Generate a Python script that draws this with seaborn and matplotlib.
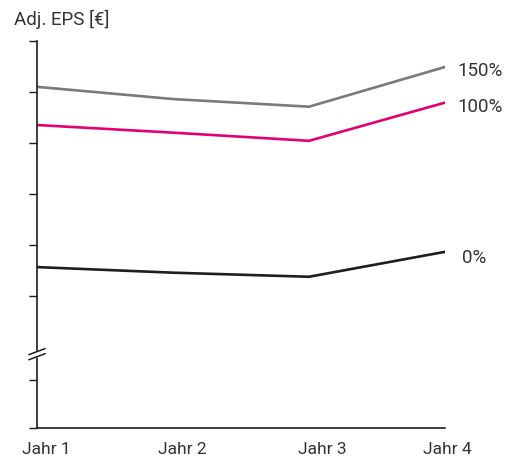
import pandas as pd
import matplotlib.pyplot as plt
import matplotlib.transforms as mtrans
import seaborn as sns

years = ["Jahr 1", "Jahr 2", "Jahr 3", "Jahr 4"]
scenarios = ["150%", "100%", "0%"]
eps_150 = [4.10, 3.86, 3.71, 4.49]
eps_100 = [3.35, 3.20, 3.04, 3.79]
eps_0 = [0.56, 0.45, 0.37, 0.86]
y_ticks = [-2.6, -1.65, 0, 1, 2, 3, 4, 5]

colors = {"150%": "#7a7a7a", "100%": "#e20074", "0%": "#1e1e1e"}

rows = []
for name, vals in zip(scenarios, [eps_150, eps_100, eps_0]):
    for i, v in enumerate(vals):
        rows.append({"pos": i, "year": years[i], "scenario": name, "eps": v})
df = pd.DataFrame(rows)

sns.set_style("white")
plt.rcParams['font.family'] = ['Roboto', 'DejaVu Sans']
text_col = "#333333"

fig = plt.figure(figsize=(5.07, 4.61), dpi=100)
ax = fig.add_axes([37 / 507, 33 / 461, 408 / 507, 387 / 461])

sns.lineplot(data=df, x="pos", y="eps", hue="scenario", palette=colors,
             linewidth=1.9, legend=False, ax=ax)

ax.set_xlim(0, 3)
ax.set_ylim(-2.6, 5.0)
ax.set_xticks(range(len(years)))
ax.set_xticklabels(years, fontsize=12.5, color=text_col)
ax.set_yticks(y_ticks)
ax.set_yticklabels([])
ax.tick_params(axis="y", length=6, width=1, color="#1e1e1e", left=True, direction="out")
ax.tick_params(axis="x", length=0, pad=10)
ax.set_xlabel("")
ax.set_ylabel("")
for s in ["top", "right"]:
    ax.spines[s].set_visible(False)
for s in ["left", "bottom"]:
    ax.spines[s].set_color("#1e1e1e")
    ax.spines[s].set_linewidth(1.2)

# nudge x labels like in the original layout
shifts = [9, 9, 13, 2]
for lab, sh in zip(ax.get_xticklabels(), shifts):
    lab.set_transform(lab.get_transform() + mtrans.ScaledTranslation(sh / 100, 0, fig.dpi_scale_trans))

# end labels
for name, vals in zip(scenarios, [eps_150, eps_100, eps_0]):
    off = 0.095 if name != "0%" else 0.125
    dy = -0.08 if name != "0%" else -0.12
    ax.text(3 + off, vals[-1] + dy, name, fontsize=13.5, color=text_col,
            va="center", ha="left", clip_on=False)

# axis break mark
yb, dx, dy, gap = -1.2, 0.06, 0.06, 0.10
ax.fill([-dx, dx, dx, -dx], [yb - dy, yb + dy, yb + dy + gap, yb - dy + gap],
        color="white", zorder=5, clip_on=False)
for g in (0, gap):
    ax.plot([-dx, dx], [yb - dy + g, yb + dy + g], color="#1e1e1e",
            linewidth=1.1, clip_on=False, zorder=6)

fig.text(14 / 507, 1 - 19 / 461, "Adj. EPS [€]", fontsize=13.5, color=text_col,
         va="center", ha="left")

fig.savefig("out.png", dpi=100)
